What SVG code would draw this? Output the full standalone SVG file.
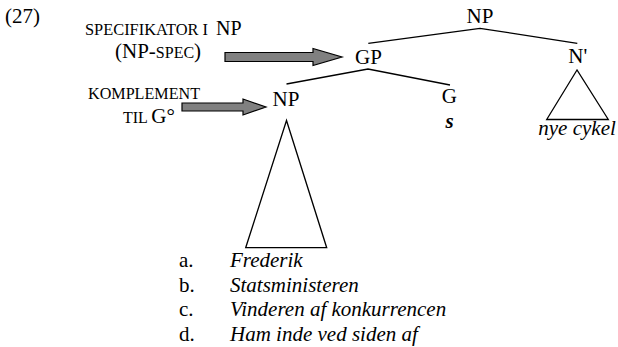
<svg xmlns="http://www.w3.org/2000/svg" width="618" height="347" viewBox="0 0 618 347">
<defs>
<style>
.ln{stroke:#000;stroke-width:1.3;fill:none}
.arr{fill:#808080;stroke:#000;stroke-width:1.2}
</style>
</defs>
<rect width="618" height="347" fill="#fff"/>
<text x="5" y="23" font-family="Liberation Serif" font-size="21">(27)</text>
<g id="label-spec">
<text x="85" y="35" font-family="Liberation Serif" font-size="16" textLength="123" lengthAdjust="spacingAndGlyphs">SPECIFIKATOR I</text>
<text x="216" y="35" font-family="Liberation Serif" font-size="20">NP</text>
<text x="115" y="58" font-family="Liberation Serif" font-size="21">(NP-<tspan font-size="16">SPEC</tspan>)</text>
</g>
<g id="label-kompl">
<text x="88" y="98.5" font-family="Liberation Serif" font-size="16" textLength="112" lengthAdjust="spacingAndGlyphs">KOMPLEMENT</text>
<text x="123" y="122.5" font-family="Liberation Serif" font-size="16">TIL <tspan font-size="21">G°</tspan></text>
</g>
<g id="connectors">
<polygon class="arr" points="225,52.5 313,52.5 313,48.5 342,57 313,65.5 313,61.5 225,61.5"/>
<polygon class="arr" points="182,103 243,103 243,99 266,107 243,115 243,111 182,111"/>
<polyline class="ln" points="368.3,43.3 480,28.3 577.3,43.3"/>
<polyline class="ln" points="286.5,84 368,69 450,85"/>
<polygon class="ln" points="286.5,120.5 245.7,247.7 326.7,247.7"/>
<polygon class="ln" points="577,70 546.7,119.5 608.3,119.5"/>
</g>
<g id="np-top"><text x="466.5" y="22.7" font-family="Liberation Serif" font-size="21">NP</text></g>
<g id="gp"><text x="355" y="63.5" font-family="Liberation Serif" font-size="21">GP</text></g>
<g id="nbar"><text x="568.3" y="63.3" font-family="Liberation Serif" font-size="21">N'</text></g>
<g id="np-low"><text x="272.5" y="106" font-family="Liberation Serif" font-size="21">NP</text></g>
<g id="g"><text x="441.7" y="103.3" font-family="Liberation Serif" font-size="21">G</text><text x="445.5" y="128.3" font-family="Liberation Serif" font-size="21" font-style="italic" font-weight="bold">s</text></g>
<g id="nbar-tri"><text x="538.3" y="135" font-family="Liberation Serif" font-size="21" font-style="italic">nye cykel</text></g>
<g id="list">
<text x="179" y="267" font-family="Liberation Serif" font-size="21">a.</text><text x="230" y="267" font-family="Liberation Serif" font-size="21" font-style="italic">Frederik</text>
<text x="179" y="291.5" font-family="Liberation Serif" font-size="21">b.</text><text x="230" y="291.5" font-family="Liberation Serif" font-size="21" font-style="italic">Statsministeren</text>
<text x="179" y="316" font-family="Liberation Serif" font-size="21">c.</text><text x="230" y="316" font-family="Liberation Serif" font-size="21" font-style="italic">Vinderen af konkurrencen</text>
<text x="179" y="340.5" font-family="Liberation Serif" font-size="21">d.</text><text x="230" y="340.5" font-family="Liberation Serif" font-size="21" font-style="italic">Ham inde ved siden af</text>
</g>
</svg>
